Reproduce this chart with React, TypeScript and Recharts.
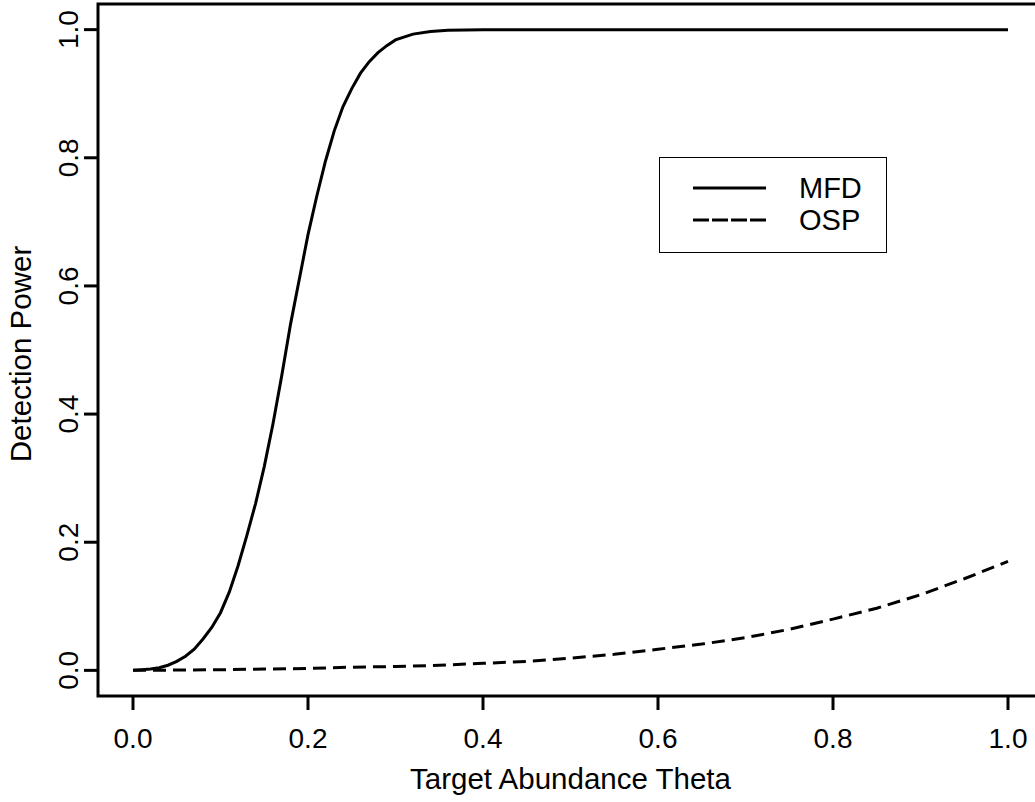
import React from "react";
import {
  LineChart,
  Line,
  XAxis,
  YAxis,
  ReferenceArea,
  Legend,
  Label,
} from "recharts";

const FONT = "'Liberation Sans', Arial, Helvetica, sans-serif";

const xTicks = [0, 0.2, 0.4, 0.6, 0.8, 1.0];
const yTicks = [0, 0.2, 0.4, 0.6, 0.8, 1.0];
const xTickLabels = ["0.0", "0.2", "0.4", "0.6", "0.8", "1.0"];
const yTickLabels = ["0.0", "0.2", "0.4", "0.6", "0.8", "1.0"];

const mfdTheta = [
  0, 0.01, 0.02, 0.03, 0.04, 0.05, 0.06, 0.07, 0.08, 0.09, 0.1, 0.11, 0.12,
  0.13, 0.14, 0.15, 0.16, 0.17, 0.18, 0.19, 0.2, 0.21, 0.22, 0.23, 0.24, 0.25,
  0.26, 0.27, 0.28, 0.29, 0.3, 0.32, 0.34, 0.36, 0.4, 0.5, 0.6, 0.7, 0.8, 0.9,
  1.0,
];
const mfdPower = [
  0, 0.001, 0.002, 0.004, 0.008, 0.014, 0.022, 0.033, 0.049, 0.067, 0.09,
  0.122, 0.163, 0.21, 0.26, 0.318, 0.385, 0.46, 0.54, 0.61, 0.68, 0.74, 0.795,
  0.842, 0.88, 0.908, 0.932, 0.95, 0.964, 0.975, 0.984, 0.993, 0.997, 0.999,
  1.0, 1.0, 1.0, 1.0, 1.0, 1.0, 1.0,
];

const ospTheta = [
  0, 0.05, 0.1, 0.15, 0.2, 0.25, 0.3, 0.35, 0.4, 0.45, 0.5, 0.55, 0.6, 0.65,
  0.7, 0.75, 0.8, 0.85, 0.9, 0.95, 1.0,
];
const ospPower = [
  0, 0.0005, 0.001, 0.002, 0.003, 0.005, 0.006, 0.008, 0.011, 0.014, 0.019,
  0.025, 0.033, 0.041, 0.051, 0.064, 0.08, 0.097, 0.118, 0.143, 0.17,
];

const seriesNames = ["MFD", "OSP"];

const mfdData = mfdTheta.map((t, i) => ({ theta: t, power: mfdPower[i] }));
const ospData = ospTheta.map((t, i) => ({ theta: t, power: ospPower[i] }));

const XTick = (props: any) => {
  const { x, y, payload, index } = props;
  return (
    <text
      x={x}
      y={y + 38}
      textAnchor="middle"
      fontFamily={FONT}
      fontSize={28}
      fill="#000"
    >
      {xTickLabels[index] ?? String(payload.value)}
    </text>
  );
};

const YTick = (props: any) => {
  const { x, y, payload, index } = props;
  return (
    <text
      transform={`translate(${x - 6},${y}) rotate(-90)`}
      textAnchor="middle"
      fontFamily={FONT}
      fontSize={28}
      fill="#000"
    >
      {yTickLabels[index] ?? String(payload.value)}
    </text>
  );
};

const LegendBox = () => (
  <div
    style={{
      width: 228,
      height: 96,
      border: "1.5px solid #000",
      boxSizing: "border-box",
      background: "#fff",
      position: "relative",
      fontFamily: FONT,
      fontSize: 28,
    }}
  >
    <svg width={228} height={96} style={{ position: "absolute", left: 0, top: 0 }}>
      <line x1={33} x2={106} y1={30} y2={30} stroke="#000" strokeWidth={3} />
      <line
        x1={33}
        x2={106}
        y1={62}
        y2={62}
        stroke="#000"
        strokeWidth={3}
        strokeDasharray="16 3"
      />
      <text x={139} y={40} fontFamily={FONT} fontSize={29} fill="#000">
        {seriesNames[0]}
      </text>
      <text x={139} y={72} fontFamily={FONT} fontSize={29} fill="#000">
        {seriesNames[1]}
      </text>
    </svg>
  </div>
);

export default function App() {
  return (
    <div style={{ position: "absolute", left: 0, top: 0, background: "#fff" }}>
      <LineChart
        width={1050}
        height={802}
        margin={{ top: 4, right: 7, bottom: 0, left: 0 }}
        style={{ background: "#fff" }}
      >
        <XAxis
          type="number"
          dataKey="theta"
          domain={[-0.04, 1.04]}
          ticks={xTicks}
          allowDataOverflow
          axisLine={false}
          tickLine={{ stroke: "#000", strokeWidth: 3 }}
          tickSize={14}
          tickMargin={0}
          height={106}
          tick={<XTick />}
          interval={0}
        >
          <Label
            content={(p: any) => {
              const vb = p.viewBox || { x: 98, width: 945 };
              return (
                <text
                  x={vb.x + vb.width / 2}
                  y={789}
                  textAnchor="middle"
                  fontFamily={FONT}
                  fontSize={29.5}
                  fill="#000"
                >
                  Target Abundance Theta
                </text>
              );
            }}
          />
        </XAxis>
        <YAxis
          type="number"
          domain={[-0.04, 1.04]}
          ticks={yTicks}
          allowDataOverflow
          axisLine={false}
          tickLine={{ stroke: "#000", strokeWidth: 3 }}
          tickSize={14}
          tickMargin={0}
          width={98}
          tick={<YTick />}
          interval={0}
        >
          <Label
            content={(p: any) => {
              const vb = p.viewBox || { y: 4, height: 692 };
              const cy = vb.y + vb.height / 2;
              return (
                <text
                  transform={`translate(31,${cy + 4}) rotate(-90)`}
                  textAnchor="middle"
                  fontFamily={FONT}
                  fontSize={29.5}
                  fill="#000"
                >
                  Detection Power
                </text>
              );
            }}
          />
        </YAxis>
        <ReferenceArea
          x1={-0.04}
          x2={1.04}
          y1={-0.04}
          y2={1.04}
          fill="none"
          fillOpacity={0}
          stroke="#000"
          strokeWidth={3}
          ifOverflow="visible"
        />
        <Line
          data={mfdData}
          dataKey="power"
          name={seriesNames[0]}
          type="linear"
          stroke="#000"
          strokeWidth={3}
          dot={false}
          activeDot={false}
          isAnimationActive={false}
        />
        <Line
          data={ospData}
          dataKey="power"
          name={seriesNames[1]}
          type="linear"
          stroke="#000"
          strokeWidth={3}
          strokeDasharray="13 7"
          dot={false}
          activeDot={false}
          isAnimationActive={false}
        />
        <Legend
          layout="horizontal"
          verticalAlign="middle"
          align="center"
          content={() => <LegendBox />}
          wrapperStyle={{
            position: "absolute",
            left: 659,
            top: 157,
            width: 228,
            height: 96,
          }}
        />
      </LineChart>
    </div>
  );
}
